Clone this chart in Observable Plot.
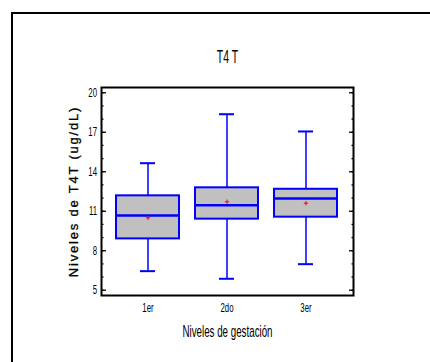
<!DOCTYPE html>
<html><head><meta charset="utf-8">
<script src="https://cdn.jsdelivr.net/npm/d3@7"></script>
<script src="https://cdn.jsdelivr.net/npm/@observablehq/plot@0.6"></script>
<style>
body{margin:0;background:#fff;}
#wrap{position:relative;width:430px;height:362px;overflow:hidden;background:#fff;}
#border{position:absolute;left:11px;top:12px;width:600px;height:600px;border:2px solid #000;}
#chart{position:absolute;left:0;top:0;}
</style></head><body>
<div id="wrap"><div id="border"></div><div id="chart"></div></div>
<script>
const categories = ["1er", "2do", "3er"];
const whiskerLow = [6.45, 5.87, 6.98];
const q1 = [8.9, 10.4, 10.55];
const median = [10.68, 11.46, 11.97];
const q3 = [12.17, 12.78, 12.67];
const whiskerHigh = [14.65, 18.37, 17.06];
const means = [10.5, 11.72, 11.61];
const majorTicks = [5, 8, 11, 14, 17, 20];
const minorTicks = [5, 6, 7, 8, 9, 10, 11, 12, 13, 14, 15, 16, 17, 18, 19, 20];
const title = "T4 T";
const xLabel = "Niveles de gestación";
const yLabel = "Niveles de T4T (ug/dL)";

const data = categories.map((c, i) => ({cat: c, lo: whiskerLow[i], q1: q1[i], med: median[i], q3: q3[i], hi: whiskerHigh[i], mean: means[i]}));
const blue = "#0000ff";
const narrow = "'Liberation Sans Narrow', 'Liberation Sans', Arial, sans-serif";

const chart = Plot.plot({
  width: 430, height: 362,
  marginLeft: 101, marginRight: 77, marginTop: 87, marginBottom: 67,
  x: {domain: categories, paddingInner: 0.2, paddingOuter: 0.19},
  y: {domain: [4.6, 20.4]},
  style: {fontFamily: narrow, background: "transparent", color: "#000"},
  marks: [
    Plot.ruleX(data, {x: "cat", y1: "lo", y2: "hi", stroke: blue, strokeWidth: 1.5}),
    Plot.tickY(data, {x: "cat", y: "lo", stroke: blue, strokeWidth: 2, insetLeft: 24, insetRight: 24}),
    Plot.tickY(data, {x: "cat", y: "hi", stroke: blue, strokeWidth: 2, insetLeft: 24, insetRight: 24}),
    Plot.barY(data, {x: "cat", y1: "q1", y2: "q3", fill: "#c0c0c0", stroke: blue, strokeWidth: 2}),
    Plot.tickY(data, {x: "cat", y: "med", stroke: blue, strokeWidth: 2.5}),
    Plot.dot(data, {x: "cat", y: "mean", symbol: "plus", r: 1.5, stroke: "red", strokeWidth: 1}),
    Plot.axisY(minorTicks, {anchor: "left", tickSize: -2.5, text: null, strokeWidth: 1.3, label: null}),
    Plot.axisY(majorTicks, {anchor: "left", tickSize: -5, text: null, strokeWidth: 1.3, label: null}),
    Plot.axisY(majorTicks, {anchor: "left", tickSize: 0, tickPadding: 4.5, fontSize: 13, label: null}),
    Plot.axisY(minorTicks, {anchor: "right", tickSize: -2.5, text: null, strokeWidth: 1.3, label: null}),
    Plot.axisY(majorTicks, {anchor: "right", tickSize: -5, text: null, strokeWidth: 1.3, label: null}),
    Plot.axisX({anchor: "bottom", tickSize: 0, tickPadding: 7, fontSize: 13, label: null}),
    Plot.frame({stroke: "#000", strokeWidth: 2}),
    Plot.text([title], {frameAnchor: "top", dy: -25, lineAnchor: "bottom", fontSize: 18, text: d => d}),
    Plot.text([xLabel], {frameAnchor: "bottom", dy: 41, lineAnchor: "bottom", fontSize: 16, text: d => d}),
    Plot.text([yLabel], {frameAnchor: "left", dx: -28, rotate: -90, textAnchor: "middle", fontSize: 13, text: d => d, fontFamily: "'Liberation Sans', Arial, sans-serif"})
  ]
});
document.getElementById("chart").appendChild(chart);

function squeeze(el, sx) {
  const t = d3.select(el);
  const x = parseFloat(t.attr("x")) || 0;
  const tr = t.attr("transform") || "";
  t.attr("x", null).attr("transform", `${tr} translate(${x},0) scale(${sx},1)`);
}
d3.select(chart).selectAll("text").each(function() {
  const s = this.textContent;
  if (s === yLabel) {
    d3.select(this).style("letter-spacing", "1.8px").style("stroke", "#000").style("stroke-width", "0.3px");
  } else if (s === title) {
    squeeze(this, 0.58);
  } else if (s === xLabel) {
    squeeze(this, 0.61);
  } else {
    squeeze(this, 0.6);
  }
});
</script>
</body></html>
